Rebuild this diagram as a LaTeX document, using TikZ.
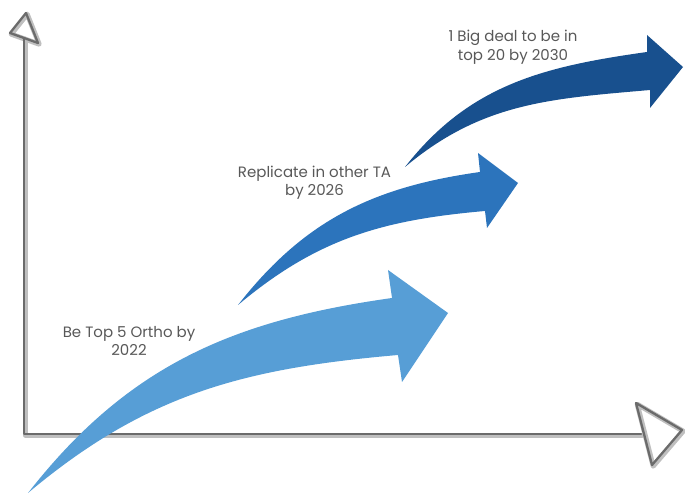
\documentclass[tikz,border=0pt]{standalone}
\usepackage{fontspec}
\setmainfont{Poppins}
\definecolor{stepone}{HTML}{579ED6}
\definecolor{steptwo}{HTML}{2C74BC}
\definecolor{stepthree}{HTML}{18508E}
\definecolor{labelgray}{HTML}{585858}

\begin{document}
\begin{tikzpicture}[x=1pt,y=1pt,
  axisshadow/.style={draw=black!25,line width=5pt,line join=round,line cap=round},
  axisline/.style={draw=black!58,line width=2.3pt,line join=round,line cap=round},
  goal/.style={text=labelgray,align=center,font=\fontsize{15}{18.5}\selectfont}]
\useasboundingbox (0,0) rectangle (685,494);

% axes, a soft shadow first and the line on top
\foreach \s/\dx in {axisshadow/1.2,axisline/0}{
  \draw[\s,shift={(\dx,-\dx)}] (24,456) -- (24,60) -- (641,60);
  \draw[\s,shift={(\dx,-\dx)}] (26,481) -- (10,461) -- (38,451) -- cycle;
  \draw[\s,shift={(\dx,-\dx)}] (636,91) -- (682,64) -- (652,29) -- cycle;
}

% growth arrows
\fill[stepone] (28,1) to[out=52,in=188] (392,196) -- (388,224) -- (448,181)
  -- (402,112) -- (398,139) to[out=185,in=40] cycle;
\fill[steptwo] (238,189) to[out=52,in=188] (480,322) -- (478,341) -- (518,311)
  -- (487,266) -- (485,283) to[out=185,in=40] cycle;
\fill[stepthree] (405,327) to[out=52,in=188] (647,442) -- (647,459) -- (683,427)
  -- (650,386) -- (650,404) to[out=185,in=40] cycle;

\node[goal] (goal1) at (129,153) {Be Top 5 Ortho by\\2022};
\node[goal] (goal2) at (314.5,311.5) {Replicate in other TA\\by 2026};
\node[goal] (goal3) at (513,446.5) {1 Big deal to be in\\top 20 by 2030};
\end{tikzpicture}
\end{document}
